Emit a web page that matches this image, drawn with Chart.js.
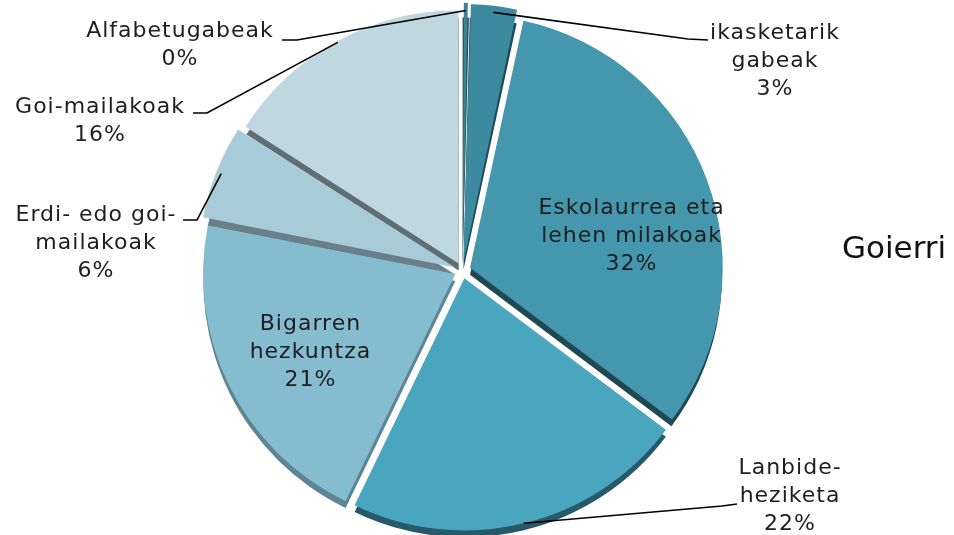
<!DOCTYPE html>
<html>
<head>
<meta charset="utf-8">
<script src="https://cdn.jsdelivr.net/npm/chart.js@4.4.1/dist/chart.umd.min.js"></script>
<style>
  html, body { margin: 0; padding: 0; background: #fff; }
  #wrap { width: 954px; height: 535px; position: relative; }
</style>
</head>
<body>
<div id="wrap"><canvas id="pie"></canvas></div>
<script>
// Data
const categories = ['Alfabetugabeak', 'ikasketarik gabeak', 'Eskolaurrea eta lehen milakoak', 'Lanbide-heziketa', 'Bigarren hezkuntza', 'Erdi- edo goi-mailakoak', 'Goi-mailakoak'];
const labelLines = [
  ['Alfabetugabeak'],
  ['ikasketarik', 'gabeak'],
  ['Eskolaurrea eta', 'lehen milakoak'],
  ['Lanbide-', 'heziketa'],
  ['Bigarren', 'hezkuntza'],
  ['Erdi- edo goi-', 'mailakoak'],
  ['Goi-mailakoak']
];
const values = [0.4, 3, 32, 22, 21, 6, 16];
const title = 'Goierri';

// Styles
const sliceColors = ['#3a8399', '#3b8aa0', '#4597ae', '#4aa6be', '#85bccf', '#a8cbd8', '#bed7e1'];
const edgeColors = ['#1f4753', '#1f4a56', '#1f4853', '#27596a', '#5d8594', '#6a7f89', '#5f6d74'];
const FONT = '"DejaVu Sans", sans-serif';
const LINE_H = 28;
const OFFSET = 32; // chart.js moves a slice by offset/4

// label layout: inside labels follow the slice centroid, outside ones get a leader line
const labelPlace = [
  { out: true, x: 180, y: 31, elbow: [297, 40], end: [282, 40] },
  { out: true, x: 775, y: 33, elbow: [688, 39], end: [708, 40] },
  { out: false, dx: 36, dy: -13 },
  { out: true, x: 790, y: 468, elbow: [722, 506], end: [737, 504] },
  { out: false, dx: -25, dy: -10 },
  { out: true, x: 96, y: 215, elbow: [197, 220], end: [183, 220] },
  { out: true, x: 100, y: 107, elbow: [207, 113], end: [193, 113] }
];

function sliceShift(arc) {
  const mid = (arc.startAngle + arc.endAngle) / 2;
  const off = (arc.options.offset || 0) / 4;
  return { mid, dx: Math.cos(mid) * off, dy: Math.sin(mid) * off };
}

const sideShadow = {
  id: 'sideShadow',
  beforeDatasetsDraw(chart) {
    const ctx = chart.ctx;
    const arcs = chart.getDatasetMeta(0).data;
    arcs.forEach((arc, i) => {
      const s = sliceShift(arc);
      const cx = arc.x + s.dx;
      const cy = arc.y + s.dy + 7;
      ctx.save();
      ctx.beginPath();
      ctx.moveTo(cx, cy);
      ctx.arc(cx, cy, arc.outerRadius, arc.startAngle, arc.endAngle);
      ctx.closePath();
      ctx.fillStyle = edgeColors[i];
      ctx.fill();
      ctx.restore();
    });
  }
};

const pieLabels = {
  id: 'pieLabels',
  afterDatasetsDraw(chart) {
    const ctx = chart.ctx;
    const arcs = chart.getDatasetMeta(0).data;
    ctx.save();
    ctx.font = '22px ' + FONT;
    ctx.letterSpacing = '1px';
    ctx.fillStyle = '#1e1e1e';
    ctx.textAlign = 'center';
    ctx.textBaseline = 'middle';
    arcs.forEach((arc, i) => {
      const place = labelPlace[i];
      const lines = labelLines[i].concat([Math.round(values[i]) + '%']);
      let tx, ty;
      if (place.out) {
        const s = sliceShift(arc);
        const ax = arc.x + s.dx + Math.cos(s.mid) * arc.outerRadius;
        const ay = arc.y + s.dy + Math.sin(s.mid) * arc.outerRadius;
        ctx.beginPath();
        ctx.moveTo(ax, ay);
        ctx.lineTo(place.elbow[0], place.elbow[1]);
        ctx.lineTo(place.end[0], place.end[1]);
        ctx.strokeStyle = '#000';
        ctx.lineWidth = 1.6;
        ctx.stroke();
        tx = place.x; ty = place.y;
      } else {
        const p = arc.tooltipPosition();
        tx = p.x + place.dx;
        ty = p.y + place.dy;
      }
      lines.forEach((t, k) => ctx.fillText(t, tx, ty + k * LINE_H));
    });
    // title on the right
    ctx.font = '31px ' + FONT;
    ctx.letterSpacing = '0px';
    ctx.textAlign = 'left';
    ctx.fillStyle = '#111';
    ctx.fillText(title, 842, 250);
    ctx.restore();
  }
};

new Chart(document.getElementById('pie'), {
  type: 'pie',
  data: {
    labels: categories,
    datasets: [{
      data: values,
      backgroundColor: sliceColors,
      borderWidth: 0,
      offset: OFFSET
    }]
  },
  options: {
    responsive: true,
    maintainAspectRatio: false,
    animation: false,
    radius: 252,
    layout: { padding: { top: 6, bottom: 0, left: 197, right: 226 } },
    plugins: {
      legend: { display: false },
      tooltip: { enabled: false }
    }
  },
  plugins: [sideShadow, pieLabels]
});
</script>
</body>
</html>
